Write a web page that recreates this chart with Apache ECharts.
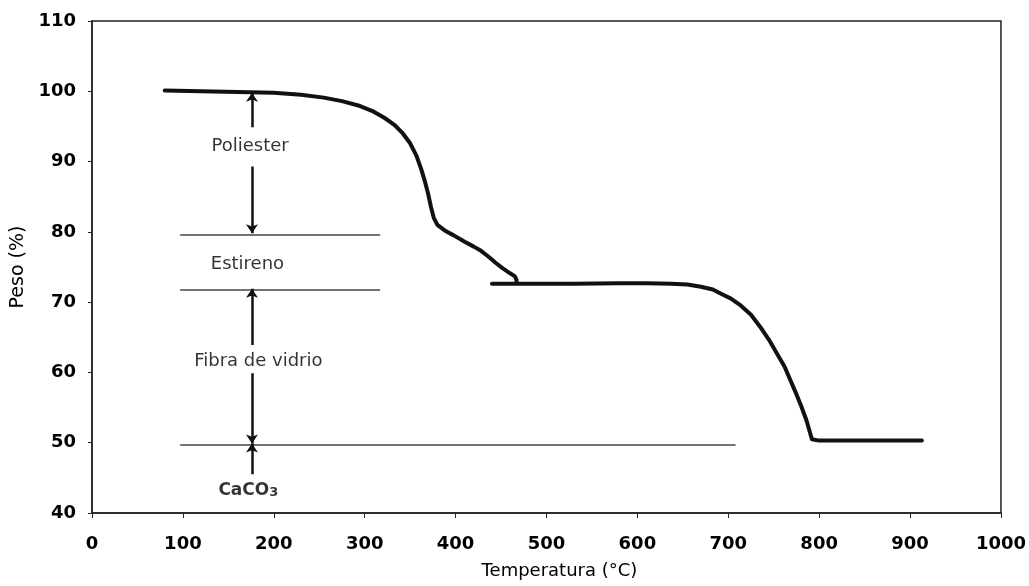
<!DOCTYPE html>
<html>
<head>
<meta charset="utf-8">
<script src="https://cdn.jsdelivr.net/npm/echarts@6/dist/echarts.min.js"></script>
<style>
  html, body { margin: 0; padding: 0; background: #fff; }
  #main { width: 1029px; height: 586px; }
</style>
</head>
<body>
<div id="main"></div>
<script>
// TGA curve: [temperature °C, weight %]
var curveA = [
  [80, 100.1], [120, 100.0], [160, 99.9], [200, 99.8], [230, 99.5], [255, 99.1],
  [275, 98.6], [295, 97.9], [310, 97.1], [322, 96.2], [333, 95.2], [342, 94.0],
  [350, 92.6], [357, 90.8], [362, 89.0], [366, 87.3], [370, 85.3], [373, 83.5],
  [376, 82.0], [380, 81.0], [388, 80.2], [398, 79.5], [410, 78.6], [420, 77.9],
  [428, 77.3], [436, 76.5], [444, 75.6], [452, 74.8], [460, 74.1], [465, 73.7],
  [467, 73.2], [467, 72.7]
]
var curveB = [
  [440, 72.6], [480, 72.6], [530, 72.6], [580, 72.7], [610, 72.7], [637, 72.6],
  [655, 72.5], [670, 72.2], [683, 71.8], [692, 71.2], [703, 70.5], [714, 69.5],
  [725, 68.2], [735, 66.5], [745, 64.6], [754, 62.6], [762, 60.8], [768, 59.0],
  [774, 57.2], [780, 55.3], [786, 53.2], [792, 50.5], [800, 50.3], [850, 50.3],
  [913, 50.3]
]

// horizontal separators between components
var refLevels = [79.6, 71.7, 49.7]
var refStart = [97, 97, 97]
var refEnd = [317, 317, 708]

// vertical arrows (x, from, to) - head at "to"
var arrowX = 176
var arrowFrom = [94.9, 89.3, 63.9, 59.9, 45.5]
var arrowTo = [99.8, 79.8, 71.9, 49.9, 49.9]

// annotations
var noteText = ['Poliester', 'Estireno', 'Fibra de vidrio', 'CaCO3']
var noteX = [174, 171, 183, 172]
var noteY = [92.2, 75.4, 61.6, 43.2]
var noteBold = [false, false, false, true]

function main() {
  var myChart = echarts.init(document.getElementById('main'))
  var font = 'DejaVu Sans'

  var refData = refLevels.map(function (lv, i) {
    return { coords: [[refStart[i], lv], [refEnd[i], lv]] }
  })
  var arrowData = arrowFrom.map(function (f, i) {
    return { coords: [[arrowX, f], [arrowX, arrowTo[i]]] }
  })
  var noteData = noteText.map(function (t, i) {
    return {
      value: [noteX[i], noteY[i]],
      label: {
        formatter: t === 'CaCO3' ? 'CaCO{s|3}' : t,
        color: '#000',
        fontFamily: font,
        fontWeight: noteBold[i] ? 'bold' : 'normal',
        fontSize: noteBold[i] ? 17 : 18,
        rich: { s: { fontSize: 13, fontWeight: 'bold', fontFamily: font, color: '#000', padding: [4, 0, 0, 0] } }
      }
    }
  })

  var option = {
    animation: false,
    backgroundColor: '#fff',
    grid: {
      left: 92, right: 28, top: 21, bottom: 73,
      show: true, borderColor: '#222', borderWidth: 1.5
    },
    xAxis: {
      type: 'value',
      min: 0, max: 1000, interval: 100,
      name: 'Temperatura (°C)',
      nameLocation: 'middle',
      nameGap: 49,
      nameTextStyle: { fontFamily: font, fontSize: 18, color: '#000', padding: [0, 0, 0, 26] },
      axisLine: { lineStyle: { color: '#222', width: 1.5 } },
      axisTick: { length: 5, lineStyle: { color: '#222' } },
      axisLabel: {
        margin: 22, fontFamily: font, fontWeight: 'bold', fontSize: 18, color: '#000',
        formatter: function (v) { return String(v) }
      },
      splitLine: { show: false }
    },
    yAxis: {
      type: 'value',
      min: 40, max: 110, interval: 10,
      name: 'Peso (%)',
      nameLocation: 'middle',
      nameGap: 60,
      nameTextStyle: { fontFamily: font, fontSize: 19, color: '#000' },
      axisLine: { show: true, lineStyle: { color: '#222', width: 1.5 } },
      axisTick: { show: true, length: 4, lineStyle: { color: '#222' } },
      axisLabel: { margin: 16, fontFamily: font, fontWeight: 'bold', fontSize: 18, color: '#000' },
      splitLine: { show: false }
    },
    series: [
      {
        type: 'line', data: curveA, showSymbol: false,
        lineStyle: { color: '#111', width: 4, cap: 'round', join: 'round' }
      },
      {
        type: 'line', data: curveB, showSymbol: false,
        lineStyle: { color: '#111', width: 4, cap: 'round', join: 'round' }
      },
      {
        type: 'lines', coordinateSystem: 'cartesian2d', data: refData,
        symbol: 'none',
        lineStyle: { color: '#444', width: 1.5, opacity: 1 }
      },
      {
        type: 'lines', coordinateSystem: 'cartesian2d', data: arrowData,
        symbol: ['none', 'arrow'], symbolSize: 9,
        lineStyle: { color: '#111', width: 2.5, opacity: 1 }
      },
      {
        type: 'scatter', data: noteData, symbolSize: 0,
        label: { show: true, position: 'inside', fontFamily: font, color: '#000' }
      }
    ]
  }
  myChart.setOption(option)
}

window.onload = main
</script>
</body>
</html>
